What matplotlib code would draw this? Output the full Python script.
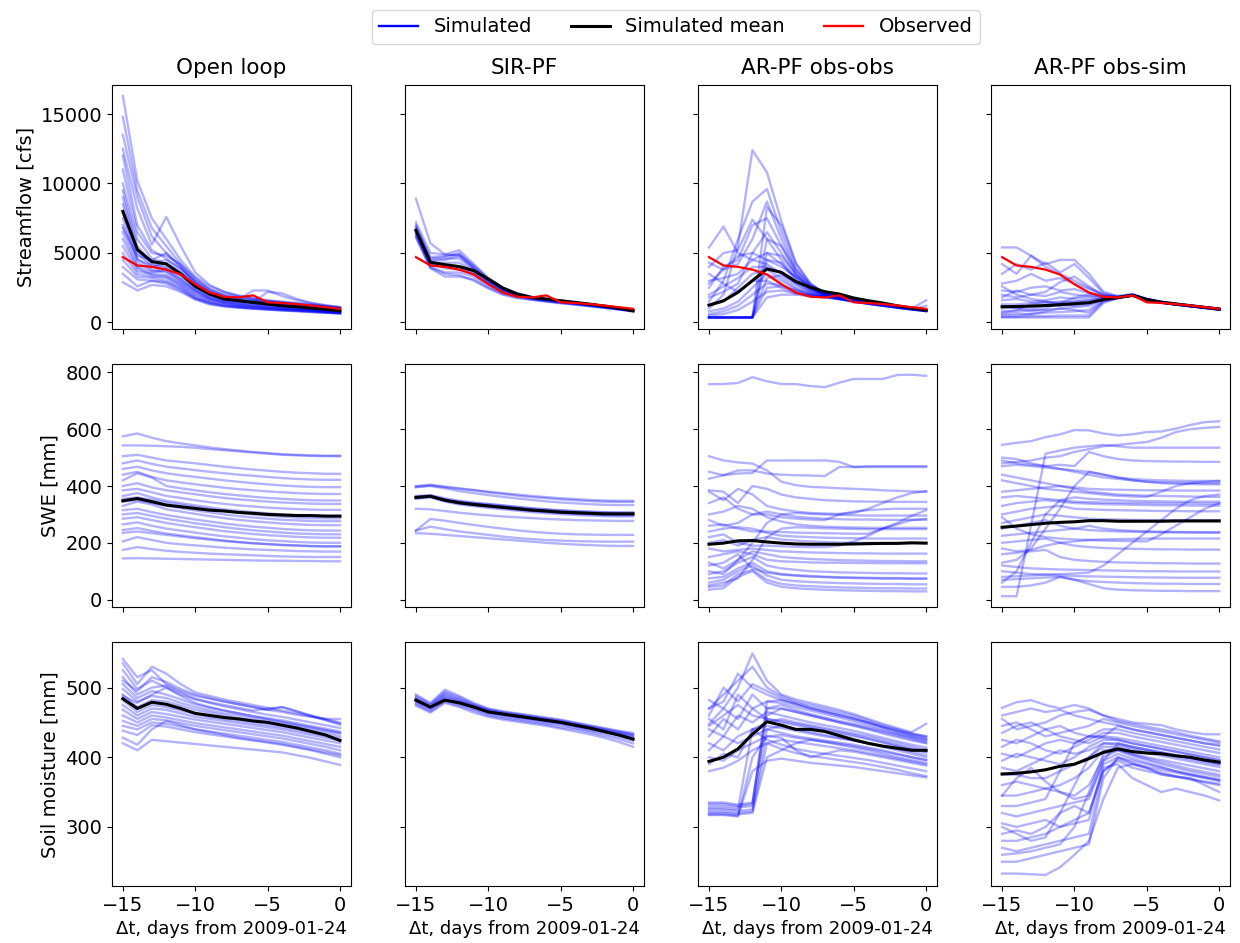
import numpy as np
import matplotlib
matplotlib.use("Agg")
import matplotlib.pyplot as plt
from matplotlib.lines import Line2D

days = list(range(-15, 1))

# ---- streamflow [cfs] --------------------------------------------------------
obs_flow = [4700, 4100, 4000, 3800, 3450, 2750, 2150, 1850, 1800, 1950, 1450, 1400, 1320, 1220, 1100, 980]

ol_flow_mean = [7990, 5250, 4380, 4210, 3490, 2600, 2045, 1685, 1565, 1445, 1320, 1200, 1130, 1035, 940, 840]
ol_flow = [
    [16300, 10200, 7500, 6000, 4500, 3300, 2600, 2200, 1950, 1750, 1600, 1500, 1400, 1300, 1200, 1100],
    [14800, 9500, 6800, 5500, 4200, 3100, 2400, 2050, 1850, 1700, 1550, 1450, 1350, 1250, 1150, 1050],
    [13500, 9000, 6200, 5000, 4000, 3000, 2300, 1950, 1750, 1600, 1500, 1400, 1300, 1200, 1100, 1000],
    [12500, 8200, 5600, 7600, 5500, 3600, 2700, 2200, 1900, 1700, 1550, 1450, 1350, 1250, 1150, 1050],
    [12000, 7000, 5200, 4600, 3800, 2900, 2200, 1850, 1650, 1500, 1400, 1300, 1200, 1100, 1000, 900],
    [11000, 6500, 5000, 4800, 4200, 3200, 2400, 1900, 1700, 1550, 1450, 1350, 1250, 1150, 1050, 950],
    [10000, 6000, 4600, 4200, 3600, 2700, 2100, 1800, 1600, 1500, 1400, 1300, 1200, 1100, 1000, 900],
    [9500, 5500, 4300, 4500, 3900, 2900, 2200, 1850, 1650, 2300, 2300, 1900, 1600, 1400, 1250, 1100],
    [9000, 5200, 4200, 4000, 3400, 2500, 1950, 1650, 1500, 1400, 1300, 1200, 1100, 1000, 900, 800],
    [8500, 5000, 4000, 4300, 3600, 2600, 2000, 1700, 1550, 1450, 1350, 1250, 1150, 1050, 950, 850],
    [8000, 4600, 3800, 3700, 3100, 2300, 1800, 1550, 1400, 1300, 1200, 1100, 1000, 900, 800, 750],
    [7500, 4500, 4100, 3900, 3200, 2400, 1850, 1600, 1450, 1350, 1250, 1150, 1050, 950, 850, 780],
    [7000, 4300, 3700, 3600, 2900, 2200, 1700, 1450, 1300, 1200, 1100, 1000, 950, 880, 800, 720],
    [6800, 4800, 4500, 5000, 4000, 2800, 2100, 1750, 1550, 1450, 2200, 2100, 1700, 1400, 1200, 1050],
    [6500, 4000, 3600, 3800, 3000, 2300, 1750, 1500, 1350, 1250, 1150, 1050, 980, 900, 820, 740],
    [6000, 3900, 3400, 3300, 2700, 2000, 1600, 1400, 1250, 1150, 1050, 980, 920, 850, 780, 700],
    [5500, 3700, 3500, 3400, 2800, 2100, 1650, 1400, 1250, 1150, 1080, 1000, 930, 860, 790, 720],
    [5000, 3500, 3300, 3200, 2600, 1900, 1500, 1300, 1180, 1100, 1020, 950, 890, 830, 760, 690],
    [4500, 3300, 3200, 3000, 2500, 1800, 1450, 1250, 1130, 1050, 980, 920, 860, 800, 740, 670],
    [4000, 3100, 3000, 2900, 2400, 1750, 1400, 1200, 1100, 1020, 950, 890, 840, 780, 720, 660],
    [3500, 2600, 3000, 2800, 2300, 1700, 1350, 1180, 1080, 1000, 930, 870, 820, 760, 700, 650],
    [2900, 2300, 2700, 2600, 2200, 1650, 1300, 1150, 1050, 980, 920, 860, 810, 750, 700, 640],
]

sir_flow_mean = [6620, 4330, 4160, 4020, 3730, 3130, 2480, 2045, 1800, 1685, 1565, 1445, 1320, 1180, 1035, 840]
sir_flow = [
    [8900, 5700, 4900, 4800, 3900, 3000, 2400, 2000, 1800, 1650, 1500, 1400, 1280, 1150, 1020, 880],
    [7200, 5000, 4900, 5200, 4200, 3200, 2500, 2100, 1850, 1700, 1550, 1430, 1300, 1170, 1040, 900],
    [7000, 4600, 4700, 5000, 4000, 3100, 2450, 2050, 1800, 1650, 1520, 1400, 1280, 1150, 1020, 880],
    [6900, 4700, 4800, 4900, 4100, 3150, 2500, 2080, 1820, 1680, 1540, 1420, 1290, 1160, 1030, 890],
    [6800, 4400, 4500, 4800, 3900, 3000, 2400, 2000, 1780, 1630, 1500, 1380, 1260, 1130, 1000, 860],
    [6700, 4500, 4600, 4600, 3800, 2950, 2350, 1980, 1760, 1620, 1490, 1370, 1250, 1120, 990, 850],
    [6600, 4200, 4300, 4300, 3700, 2900, 2300, 1950, 1750, 1600, 1480, 1360, 1240, 1110, 980, 840],
    [6500, 4300, 3900, 3800, 3600, 2850, 2300, 1950, 1730, 1600, 1470, 1350, 1230, 1110, 980, 840],
    [6400, 4100, 4000, 4000, 3500, 2800, 2250, 1900, 1720, 1580, 1460, 1340, 1220, 1100, 970, 830],
    [6300, 4000, 3600, 3600, 3300, 2650, 2150, 1850, 1680, 1550, 1430, 1320, 1200, 1080, 950, 820],
    [6200, 3900, 3300, 3300, 3100, 2500, 2050, 1800, 1650, 1520, 1400, 1300, 1180, 1060, 940, 800],
    [6100, 3950, 3500, 3400, 3000, 2450, 2000, 1750, 1620, 1500, 1380, 1280, 1170, 1050, 930, 790],
]

aroo_flow_mean = [1250, 1560, 2170, 3010, 3850, 3610, 2940, 2530, 2215, 2045, 1760, 1565, 1400, 1200, 1035, 890]
aroo_flow = [
    [1000, 2000, 5500, 12400, 10800, 7300, 4300, 2800, 2100, 1850, 1650, 1450, 1300, 1150, 1000, 900],
    [5400, 6900, 5000, 4500, 4200, 3500, 2900, 2400, 2050, 1800, 1600, 1450, 1300, 1150, 1000, 880],
    [1500, 3000, 6000, 8700, 9600, 6500, 3900, 2700, 2100, 1850, 1650, 1450, 1300, 1150, 1000, 880],
    [360, 360, 360, 360, 8300, 7000, 4200, 2800, 2100, 1850, 1650, 1450, 1300, 1150, 1000, 900],
    [2500, 4000, 4500, 7000, 7500, 5500, 3500, 2500, 2000, 1800, 1600, 1450, 1300, 1150, 1000, 880],
    [360, 360, 360, 360, 6000, 5500, 3800, 2700, 2100, 1850, 1650, 1450, 1300, 1150, 1000, 1600],
    [4300, 3800, 4800, 5000, 4500, 4000, 3300, 2600, 2050, 1800, 1600, 1450, 1300, 1150, 1000, 880],
    [3000, 3200, 3500, 4500, 5000, 4200, 3200, 2400, 2000, 1780, 1580, 1420, 1280, 1130, 990, 870],
    [360, 360, 360, 360, 4500, 4300, 3000, 2300, 1950, 1750, 1560, 1400, 1260, 1120, 980, 860],
    [2000, 2600, 3200, 4000, 4000, 3600, 2800, 2200, 1950, 1750, 1550, 1400, 1250, 1100, 970, 850],
    [360, 360, 360, 360, 3200, 3400, 2700, 2200, 1950, 1750, 1550, 1400, 1250, 1100, 970, 850],
    [1200, 1500, 2500, 3500, 3800, 3200, 2500, 2100, 1900, 1720, 1540, 1380, 1240, 1100, 960, 840],
    [800, 1000, 1500, 2500, 3500, 3000, 2400, 2050, 1880, 1700, 1530, 1370, 1230, 1090, 950, 830],
    [360, 360, 360, 360, 2500, 2600, 2300, 2000, 1850, 1700, 1520, 1360, 1220, 1080, 950, 820],
    [3500, 2800, 2200, 3000, 3000, 2500, 2100, 1950, 1850, 1690, 1510, 1350, 1210, 1070, 940, 820],
    [600, 800, 1200, 2000, 2800, 2700, 2300, 2000, 1850, 1690, 1510, 1350, 1210, 1070, 940, 1200],
    [360, 360, 360, 360, 1800, 2000, 2000, 1900, 1820, 1680, 1500, 1340, 1200, 1060, 930, 810],
    [1800, 2200, 2800, 5000, 6500, 5000, 3400, 2500, 2000, 1780, 1580, 1420, 1280, 1130, 990, 870],
    [360, 360, 360, 360, 5000, 4800, 3500, 2500, 2000, 1780, 1580, 1420, 1280, 1130, 990, 870],
    [2800, 3800, 4200, 6000, 8700, 6000, 3700, 2600, 2050, 1800, 1600, 1440, 1290, 1140, 1000, 880],
    [500, 600, 900, 1500, 2200, 2300, 2100, 1950, 1820, 1680, 1500, 1340, 1200, 1060, 930, 820],
    [4000, 5000, 5200, 7400, 6000, 4500, 3200, 2400, 2000, 1780, 1580, 1420, 1280, 1130, 990, 870],
]

aros_flow_mean = [1130, 1150, 1180, 1220, 1280, 1350, 1420, 1650, 1800, 1950, 1650, 1450, 1330, 1210, 1090, 970]
aros_flow = [
    [5400, 5400, 4800, 4200, 4500, 4500, 3500, 2200, 1900, 2050, 1700, 1500, 1360, 1230, 1100, 980],
    [4200, 3500, 4800, 4000, 3500, 3000, 2500, 2000, 1850, 2000, 1680, 1480, 1340, 1210, 1090, 970],
    [3500, 4200, 3800, 4300, 3600, 4200, 3200, 2100, 1880, 2020, 1690, 1490, 1350, 1220, 1095, 975],
    [2800, 3000, 3500, 3000, 3200, 2800, 2400, 1950, 1830, 1990, 1670, 1470, 1330, 1200, 1080, 960],
    [2300, 2200, 2500, 2600, 2300, 2400, 2100, 1900, 1820, 1980, 1660, 1460, 1320, 1200, 1080, 960],
    [2000, 1800, 2000, 1900, 2200, 2000, 1900, 1850, 1800, 1970, 1650, 1450, 1310, 1190, 1070, 950],
    [1600, 1700, 1500, 1600, 1800, 1700, 1800, 1800, 1800, 1960, 1650, 1450, 1310, 1190, 1070, 950],
    [1300, 1300, 1400, 1400, 1500, 1500, 1600, 1750, 1790, 1950, 1640, 1440, 1300, 1180, 1060, 940],
    [1000, 1100, 1000, 1200, 1200, 1300, 1400, 1700, 1780, 1950, 1640, 1440, 1300, 1180, 1060, 940],
    [800, 800, 900, 900, 1000, 1100, 1200, 1650, 1770, 1940, 1630, 1430, 1290, 1170, 1050, 930],
    [600, 650, 600, 700, 750, 800, 900, 1600, 1760, 1940, 1630, 1430, 1290, 1170, 1050, 930],
    [400, 400, 450, 450, 500, 500, 500, 1500, 1750, 1930, 1620, 1420, 1280, 1160, 1040, 920],
    [360, 360, 360, 360, 360, 360, 360, 1400, 1740, 1930, 1620, 1420, 1280, 1160, 1040, 920],
    [1800, 2300, 2000, 2200, 2900, 3300, 2600, 1950, 1820, 1980, 1660, 1460, 1320, 1200, 1080, 960],
    [2600, 2000, 1700, 1500, 1400, 1500, 1600, 1750, 1790, 1960, 1650, 1450, 1310, 1190, 1070, 950],
    [700, 900, 1300, 1500, 1300, 1200, 1300, 1650, 1780, 1950, 1640, 1440, 1300, 1180, 1060, 940],
    [1200, 1000, 800, 1000, 1400, 1800, 2000, 1850, 1800, 1960, 1650, 1450, 1310, 1190, 1070, 950],
    [500, 500, 600, 800, 1000, 900, 700, 1550, 1760, 1940, 1630, 1430, 1290, 1170, 1050, 930],
]

# ---- SWE [mm] ----------------------------------------------------------------
ol_swe_mean = [348, 356, 345, 333, 327, 321, 315, 312, 307, 304, 300, 298, 296, 296, 294, 294]
ol_swe = [
    [575, 585, 570, 558, 550, 543, 536, 530, 525, 520, 516, 512, 510, 508, 507, 507],
    [543, 543, 542, 540, 538, 535, 530, 526, 522, 518, 514, 510, 508, 506, 505, 505],
    [505, 510, 500, 490, 485, 480, 474, 468, 463, 458, 454, 450, 447, 445, 443, 443],
    [480, 490, 478, 468, 462, 456, 450, 445, 440, 436, 432, 428, 425, 423, 422, 422],
    [460, 468, 455, 445, 438, 432, 426, 420, 415, 410, 406, 402, 399, 397, 396, 396],
    [440, 450, 432, 420, 413, 406, 400, 394, 389, 385, 381, 378, 375, 373, 372, 372],
    [420, 445, 430, 400, 392, 385, 378, 372, 367, 362, 358, 355, 352, 350, 349, 349],
    [400, 410, 395, 385, 378, 371, 364, 358, 353, 349, 345, 342, 340, 338, 337, 337],
    [385, 390, 378, 365, 358, 350, 343, 337, 332, 328, 324, 321, 319, 317, 316, 316],
    [365, 375, 360, 348, 340, 332, 325, 318, 313, 308, 304, 300, 298, 296, 295, 295],
    [355, 360, 352, 342, 334, 326, 319, 312, 306, 300, 296, 292, 289, 287, 286, 286],
    [345, 350, 340, 330, 322, 314, 307, 300, 294, 289, 285, 281, 279, 277, 276, 276],
    [330, 345, 335, 318, 310, 302, 294, 287, 281, 276, 272, 268, 265, 263, 262, 262],
    [315, 320, 308, 298, 290, 282, 275, 268, 262, 257, 253, 249, 246, 244, 243, 243],
    [300, 305, 295, 285, 277, 269, 262, 255, 249, 244, 240, 236, 233, 231, 230, 230],
    [285, 290, 280, 270, 262, 255, 248, 241, 236, 231, 227, 224, 221, 219, 218, 218],
    [265, 272, 260, 250, 243, 236, 229, 223, 218, 213, 209, 206, 203, 201, 200, 200],
    [245, 252, 242, 233, 226, 220, 214, 208, 203, 199, 196, 193, 191, 189, 188, 188],
    [235, 240, 234, 228, 222, 216, 211, 206, 202, 198, 195, 192, 190, 188, 187, 187],
    [205, 220, 210, 200, 195, 191, 187, 183, 180, 177, 175, 173, 171, 170, 169, 169],
    [175, 185, 178, 172, 168, 165, 162, 160, 158, 156, 154, 152, 151, 150, 150, 150],
    [145, 146, 145, 144, 143, 142, 141, 140, 139, 138, 137, 137, 136, 136, 135, 135],
]

sir_swe_mean = [360, 364, 350, 341, 335, 330, 325, 320, 315, 312, 308, 306, 304, 302, 302, 302]
sir_swe = [
    [400, 405, 398, 392, 386, 380, 375, 370, 365, 361, 357, 354, 351, 349, 348, 348],
    [395, 402, 396, 390, 385, 378, 372, 366, 361, 357, 353, 350, 347, 345, 344, 344],
    [398, 400, 392, 382, 375, 368, 362, 356, 351, 346, 342, 339, 336, 334, 333, 333],
    [365, 368, 357, 348, 342, 337, 332, 327, 322, 318, 315, 312, 310, 308, 307, 307],
    [362, 366, 353, 343, 337, 332, 327, 322, 317, 313, 310, 307, 305, 303, 302, 302],
    [358, 362, 348, 338, 332, 327, 322, 317, 312, 308, 305, 302, 300, 298, 297, 297],
    [355, 360, 345, 335, 329, 323, 318, 313, 308, 304, 301, 298, 296, 294, 293, 293],
    [360, 363, 352, 346, 340, 336, 331, 326, 321, 317, 314, 311, 309, 307, 306, 306],
    [357, 364, 350, 342, 336, 330, 325, 320, 315, 311, 307, 304, 302, 300, 299, 299],
    [320, 318, 312, 306, 301, 297, 293, 290, 287, 284, 282, 280, 279, 278, 277, 277],
    [243, 284, 278, 270, 263, 256, 250, 244, 239, 235, 232, 230, 229, 228, 228, 228],
    [243, 257, 248, 240, 234, 228, 222, 217, 213, 210, 208, 206, 205, 204, 204, 204],
    [234, 232, 228, 224, 220, 216, 212, 208, 204, 200, 197, 194, 192, 190, 189, 189],
]

aroo_swe_mean = [195, 199, 207, 208, 203, 199, 196, 195, 195, 195, 196, 197, 198, 198, 200, 199]
aroo_swe = [
    [759, 759, 763, 783, 769, 759, 759, 752, 748, 764, 777, 777, 777, 791, 792, 788],
    [505, 490, 483, 479, 455, 415, 403, 397, 395, 392, 390, 388, 385, 383, 381, 380],
    [450, 438, 444, 446, 490, 490, 490, 490, 490, 485, 467, 470, 470, 470, 470, 470],
    [426, 438, 455, 455, 444, 440, 438, 437, 435, 467, 467, 467, 467, 467, 467, 467],
    [385, 380, 340, 400, 390, 370, 360, 355, 350, 348, 346, 345, 345, 344, 344, 344],
    [380, 350, 390, 370, 330, 318, 310, 305, 303, 302, 305, 320, 340, 360, 375, 382],
    [340, 360, 320, 300, 310, 300, 292, 288, 285, 283, 282, 282, 281, 281, 281, 281],
    [300, 310, 330, 320, 290, 275, 265, 260, 257, 255, 254, 253, 253, 253, 253, 253],
    [280, 260, 270, 300, 300, 290, 285, 282, 280, 300, 310, 315, 318, 320, 320, 320],
    [260, 265, 250, 240, 240, 238, 236, 235, 234, 233, 232, 232, 250, 270, 295, 315],
    [240, 250, 255, 250, 235, 225, 222, 220, 218, 217, 216, 215, 215, 215, 215, 215],
    [220, 230, 200, 190, 190, 188, 186, 185, 185, 190, 205, 225, 250, 265, 280, 285],
    [200, 210, 190, 210, 220, 212, 208, 205, 203, 201, 200, 200, 199, 199, 199, 199],
    [180, 170, 175, 180, 175, 170, 168, 166, 165, 164, 163, 163, 162, 162, 162, 162],
    [150, 160, 170, 160, 140, 135, 133, 131, 130, 130, 129, 129, 128, 128, 128, 128],
    [130, 110, 140, 200, 270, 300, 305, 302, 300, 298, 297, 296, 296, 296, 296, 296],
    [120, 130, 160, 110, 95, 88, 84, 81, 79, 77, 76, 75, 74, 74, 73, 73],
    [100, 90, 140, 170, 160, 150, 146, 143, 141, 139, 138, 137, 136, 136, 135, 135],
    [90, 100, 130, 150, 120, 110, 105, 100, 98, 96, 95, 94, 93, 93, 92, 92],
    [75, 80, 110, 130, 100, 90, 86, 83, 81, 79, 78, 77, 76, 76, 75, 75],
    [60, 70, 100, 120, 85, 70, 65, 62, 60, 58, 57, 56, 55, 55, 54, 54],
    [50, 60, 75, 140, 220, 250, 255, 253, 251, 250, 249, 248, 248, 248, 248, 248],
    [45, 50, 90, 105, 70, 55, 50, 47, 45, 43, 42, 41, 40, 40, 39, 39],
    [35, 40, 80, 100, 60, 45, 40, 37, 35, 33, 32, 31, 30, 30, 29, 29],
]

aros_swe_mean = [255, 259, 264, 269, 272, 274, 278, 278, 276, 276, 276, 276, 277, 277, 277, 277]
aros_swe = [
    [545, 552, 558, 572, 582, 597, 596, 585, 578, 582, 590, 592, 602, 615, 625, 628],
    [480, 485, 490, 500, 505, 520, 530, 540, 545, 550, 555, 570, 590, 600, 605, 608],
    [12, 12, 260, 514, 525, 535, 540, 545, 540, 535, 535, 535, 535, 535, 535, 535],
    [500, 495, 480, 470, 460, 450, 440, 430, 425, 420, 415, 413, 412, 411, 410, 410],
    [490, 480, 475, 470, 475, 470, 520, 505, 495, 490, 488, 487, 486, 486, 485, 485],
    [470, 475, 470, 465, 460, 455, 450, 440, 430, 420, 415, 410, 408, 407, 406, 406],
    [440, 430, 420, 410, 400, 390, 380, 375, 370, 368, 366, 365, 364, 363, 362, 362],
    [420, 410, 400, 390, 385, 380, 375, 370, 365, 363, 362, 380, 400, 410, 415, 418],
    [380, 385, 390, 395, 400, 395, 390, 388, 387, 386, 385, 385, 384, 384, 384, 384],
    [360, 365, 360, 355, 350, 345, 343, 342, 341, 340, 340, 339, 339, 339, 338, 338],
    [330, 340, 345, 350, 345, 340, 338, 336, 335, 334, 333, 332, 332, 331, 331, 331],
    [300, 310, 320, 325, 330, 320, 318, 316, 315, 314, 313, 312, 312, 311, 311, 311],
    [290, 250, 230, 220, 215, 212, 210, 208, 207, 206, 205, 230, 260, 290, 320, 340],
    [270, 280, 290, 300, 295, 290, 285, 283, 282, 281, 280, 280, 280, 280, 280, 280],
    [250, 260, 270, 280, 260, 250, 245, 242, 240, 239, 238, 237, 237, 236, 236, 236],
    [225, 230, 235, 240, 245, 250, 260, 250, 245, 242, 240, 239, 238, 238, 237, 237],
    [200, 205, 210, 215, 200, 190, 185, 182, 180, 179, 178, 177, 177, 176, 176, 176],
    [180, 170, 175, 190, 200, 205, 210, 212, 213, 214, 215, 215, 215, 215, 215, 215],
    [160, 165, 170, 175, 150, 140, 136, 133, 131, 130, 129, 128, 128, 127, 127, 127],
    [130, 140, 180, 250, 320, 400, 450, 440, 430, 425, 422, 420, 419, 418, 418, 418],
    [120, 115, 110, 108, 106, 105, 104, 103, 102, 101, 100, 100, 99, 99, 99, 99],
    [100, 95, 90, 88, 85, 83, 82, 81, 80, 79, 78, 78, 77, 77, 77, 77],
    [80, 82, 85, 88, 90, 92, 95, 120, 160, 200, 240, 280, 320, 350, 365, 370],
    [70, 72, 75, 78, 80, 70, 65, 62, 60, 58, 57, 56, 56, 55, 55, 55],
    [60, 100, 200, 300, 350, 360, 355, 352, 350, 348, 347, 346, 345, 345, 345, 345],
    [45, 45, 50, 60, 80, 70, 55, 40, 35, 33, 32, 31, 31, 30, 30, 30],
]

# ---- soil moisture [mm] ------------------------------------------------------
ol_sm_mean = [484, 470, 479, 476, 470, 463, 460, 457, 455, 452, 450, 446, 442, 437, 432, 424]
ol_sm = [
    [541, 515, 525, 505, 495, 488, 484, 480, 476, 472, 468, 465, 461, 458, 455, 455],
    [535, 505, 530, 520, 505, 493, 488, 483, 479, 475, 471, 467, 463, 459, 455, 450],
    [525, 498, 510, 500, 490, 483, 479, 475, 471, 467, 470, 472, 466, 459, 453, 447],
    [515, 490, 500, 503, 493, 484, 478, 473, 469, 465, 461, 458, 454, 450, 446, 442],
    [510, 495, 515, 508, 498, 490, 485, 480, 476, 472, 468, 472, 466, 460, 454, 448],
    [505, 485, 495, 490, 483, 476, 471, 467, 463, 459, 456, 453, 449, 445, 441, 437],
    [498, 480, 488, 485, 478, 472, 467, 463, 460, 456, 453, 450, 446, 442, 438, 434],
    [490, 472, 482, 480, 474, 468, 464, 460, 456, 453, 450, 447, 443, 439, 435, 430],
    [488, 478, 490, 500, 488, 478, 472, 467, 463, 459, 455, 451, 447, 443, 439, 435],
    [482, 465, 475, 472, 467, 462, 458, 455, 452, 449, 446, 443, 439, 435, 431, 427],
    [475, 460, 470, 468, 463, 458, 455, 452, 449, 446, 443, 440, 436, 432, 428, 424],
    [468, 455, 465, 462, 458, 454, 451, 448, 445, 442, 439, 436, 432, 428, 424, 420],
    [460, 450, 460, 457, 453, 449, 446, 443, 440, 437, 434, 431, 427, 423, 419, 415],
    [452, 445, 455, 453, 449, 445, 442, 439, 436, 433, 430, 427, 423, 419, 415, 410],
    [445, 440, 450, 448, 444, 440, 437, 434, 431, 428, 425, 422, 418, 414, 410, 405],
    [438, 432, 446, 444, 440, 436, 433, 430, 427, 424, 421, 418, 414, 410, 405, 400],
    [428, 418, 440, 452, 446, 440, 436, 432, 428, 425, 422, 419, 415, 411, 407, 403],
    [420, 410, 425, 423, 421, 419, 417, 415, 413, 411, 409, 407, 403, 399, 394, 389],
]

sir_sm_mean = [482, 472, 482, 478, 472, 465, 462, 459, 456, 453, 450, 446, 442, 437, 432, 426]
sir_sm = [
    [490, 478, 497, 488, 478, 470, 466, 463, 460, 457, 454, 450, 446, 442, 438, 435],
    [488, 476, 494, 486, 476, 469, 465, 462, 459, 456, 453, 449, 445, 441, 437, 433],
    [486, 475, 492, 484, 475, 468, 464, 461, 458, 455, 452, 448, 444, 440, 436, 432],
    [484, 473, 490, 482, 474, 467, 463, 460, 457, 454, 451, 447, 443, 439, 435, 431],
    [483, 472, 488, 481, 473, 466, 462, 459, 456, 453, 450, 446, 442, 438, 434, 429],
    [481, 471, 486, 480, 472, 465, 461, 458, 455, 452, 449, 445, 441, 437, 433, 428],
    [480, 470, 485, 478, 471, 464, 460, 457, 454, 451, 448, 444, 440, 436, 432, 427],
    [478, 468, 482, 476, 469, 462, 458, 455, 452, 449, 446, 442, 438, 434, 429, 424],
    [476, 466, 480, 474, 467, 460, 456, 453, 450, 447, 443, 440, 436, 431, 426, 420],
    [474, 464, 478, 472, 464, 458, 454, 451, 448, 445, 441, 437, 433, 428, 422, 415],
]

aroo_sm_mean = [394, 400, 412, 433, 451, 446, 440, 440, 437, 431, 425, 420, 416, 413, 410, 410]
aroo_sm = [
    [482, 470, 500, 549, 510, 490, 483, 478, 473, 468, 462, 455, 448, 442, 436, 448],
    [470, 490, 510, 530, 500, 488, 480, 475, 470, 465, 460, 453, 446, 440, 434, 430],
    [470, 480, 520, 500, 490, 482, 476, 470, 465, 460, 455, 450, 444, 439, 434, 430],
    [460, 500, 480, 505, 495, 485, 478, 472, 467, 462, 457, 450, 443, 437, 432, 428],
    [455, 440, 490, 470, 480, 478, 472, 467, 462, 457, 452, 446, 440, 434, 429, 425],
    [448, 470, 455, 490, 470, 470, 465, 460, 455, 450, 445, 440, 434, 429, 424, 420],
    [445, 460, 475, 460, 455, 450, 446, 442, 438, 434, 430, 426, 421, 416, 411, 407],
    [440, 430, 460, 450, 465, 460, 455, 450, 446, 442, 438, 433, 428, 423, 418, 414],
    [430, 455, 440, 470, 455, 452, 448, 444, 440, 436, 432, 427, 422, 417, 412, 408],
    [420, 410, 430, 440, 445, 442, 438, 434, 430, 427, 424, 420, 415, 410, 405, 400],
    [410, 430, 420, 430, 440, 435, 430, 427, 424, 421, 418, 414, 410, 405, 400, 396],
    [400, 395, 410, 420, 430, 428, 410, 400, 405, 410, 408, 404, 400, 396, 392, 388],
    [390, 405, 400, 440, 425, 418, 412, 408, 405, 402, 399, 396, 392, 388, 384, 380],
    [380, 385, 395, 410, 420, 412, 406, 402, 399, 396, 393, 390, 386, 382, 377, 373],
    [335, 335, 332, 335, 460, 470, 465, 460, 455, 450, 446, 441, 436, 431, 426, 421],
    [333, 333, 330, 333, 480, 482, 476, 470, 465, 460, 455, 449, 443, 437, 431, 426],
    [330, 330, 328, 330, 470, 475, 468, 462, 457, 452, 448, 443, 438, 433, 428, 423],
    [327, 327, 325, 440, 450, 455, 450, 446, 442, 438, 434, 430, 425, 420, 415, 410],
    [325, 325, 323, 325, 440, 445, 440, 436, 432, 428, 424, 420, 416, 412, 408, 403],
    [322, 322, 320, 322, 420, 425, 422, 419, 416, 413, 410, 406, 402, 398, 394, 390],
    [320, 320, 318, 320, 400, 410, 420, 425, 422, 418, 414, 410, 405, 400, 396, 392],
    [318, 318, 316, 380, 395, 398, 395, 392, 390, 388, 386, 383, 380, 377, 374, 371],
    [317, 317, 315, 400, 430, 432, 428, 425, 422, 419, 416, 412, 408, 404, 400, 396],
]

aros_sm_mean = [376, 377, 379, 382, 387, 390, 398, 407, 412, 408, 406, 405, 402, 400, 396, 393]
aros_sm = [
    [471, 479, 482, 475, 470, 475, 470, 460, 455, 450, 448, 446, 440, 436, 433, 433],
    [460, 465, 470, 465, 468, 460, 455, 450, 446, 440, 436, 432, 428, 424, 420, 418],
    [455, 440, 445, 450, 460, 465, 468, 460, 452, 448, 444, 440, 436, 431, 427, 423],
    [445, 450, 440, 430, 435, 440, 445, 455, 450, 445, 441, 437, 433, 429, 425, 421],
    [435, 445, 450, 440, 430, 425, 420, 430, 445, 440, 436, 432, 428, 424, 420, 416],
    [425, 420, 430, 440, 445, 435, 430, 440, 440, 435, 431, 427, 423, 419, 415, 411],
    [415, 425, 420, 410, 405, 415, 425, 435, 435, 430, 426, 422, 418, 414, 410, 406],
    [405, 400, 410, 420, 425, 420, 430, 430, 428, 424, 420, 416, 412, 408, 404, 400],
    [395, 405, 400, 395, 390, 400, 415, 425, 425, 420, 416, 412, 408, 404, 400, 396],
    [385, 380, 390, 400, 410, 405, 410, 420, 420, 415, 411, 407, 403, 399, 395, 391],
    [375, 375, 370, 370, 380, 390, 400, 415, 415, 410, 406, 402, 398, 394, 390, 386],
    [360, 365, 360, 355, 360, 370, 385, 410, 412, 405, 400, 396, 392, 388, 384, 380],
    [345, 370, 385, 365, 350, 340, 345, 395, 420, 415, 411, 407, 403, 399, 395, 391],
    [345, 345, 350, 355, 350, 345, 360, 400, 410, 402, 396, 390, 385, 380, 376, 372],
    [330, 330, 335, 340, 380, 420, 430, 428, 425, 420, 416, 412, 408, 404, 400, 396],
    [320, 315, 320, 325, 330, 335, 340, 395, 405, 398, 392, 386, 380, 375, 371, 367],
    [305, 300, 305, 310, 300, 305, 310, 390, 400, 392, 385, 375, 372, 370, 360, 350],
    [300, 290, 280, 285, 320, 360, 400, 420, 418, 413, 409, 405, 401, 397, 393, 389],
    [290, 295, 290, 300, 320, 330, 320, 380, 395, 385, 380, 376, 372, 368, 364, 360],
    [280, 280, 285, 290, 300, 310, 320, 385, 390, 370, 360, 350, 355, 350, 345, 338],
    [270, 265, 270, 275, 280, 285, 290, 380, 398, 390, 384, 378, 373, 369, 365, 362],
    [260, 262, 265, 270, 275, 300, 350, 405, 410, 404, 398, 393, 388, 383, 379, 375],
    [250, 250, 255, 260, 265, 270, 275, 370, 400, 395, 390, 385, 380, 376, 372, 368],
    [233, 233, 232, 231, 242, 260, 280, 340, 385, 390, 386, 382, 378, 374, 370, 366],
]

col_titles = ["Open loop", "SIR-PF", "AR-PF obs-obs", "AR-PF obs-sim"]
row_labels = ["Streamflow [cfs]", "SWE [mm]", "Soil moisture [mm]"]
xlabel = "Δt, days from 2009-01-24"

ens = [
    [ol_flow, sir_flow, aroo_flow, aros_flow],
    [ol_swe, sir_swe, aroo_swe, aros_swe],
    [ol_sm, sir_sm, aroo_sm, aros_sm],
]
means = [
    [ol_flow_mean, sir_flow_mean, aroo_flow_mean, aros_flow_mean],
    [ol_swe_mean, sir_swe_mean, aroo_swe_mean, aros_swe_mean],
    [ol_sm_mean, sir_sm_mean, aroo_sm_mean, aros_sm_mean],
]

plt.rcParams['font.size'] = 13

fig, axs = plt.subplots(3, 4, figsize=(12.4, 9.43), dpi=100,
                        sharex=True, sharey='row')
fig.subplots_adjust(left=0.0903, right=0.992, top=0.91, bottom=0.0604,
                    wspace=0.227, hspace=0.144)

x = np.array(days)
for r in range(3):
    for c in range(4):
        ax = axs[r, c]
        for member in ens[r][c]:
            ax.plot(x, member, color='blue', alpha=0.3, lw=1.7)
        ax.plot(x, means[r][c], color='black', lw=2.2, zorder=5)
        if r == 0:
            ax.plot(x, obs_flow, color='red', lw=1.6, zorder=6)
            ax.set_title(col_titles[c], fontsize=15.5, pad=8)
        if c == 0:
            ax.set_ylabel(row_labels[r], fontsize=14)
        if r == 2:
            ax.set_xlabel(xlabel, fontsize=13)
        ax.tick_params(labelsize=14)

axs[0, 0].set_yticks([0, 5000, 10000, 15000])
axs[1, 0].set_yticks([0, 200, 400, 600, 800])
axs[2, 0].set_yticks([300, 400, 500])
axs[2, 0].set_xticks([-15, -10, -5, 0])

handles = [Line2D([], [], color='blue', lw=1.7),
           Line2D([], [], color='black', lw=2.2),
           Line2D([], [], color='red', lw=1.7)]
fig.legend(handles, ["Simulated", "Simulated mean", "Observed"],
           loc='upper center', bbox_to_anchor=(0.545, 1.0), ncol=3,
           fontsize=14, handlelength=2.0, columnspacing=2.0)

fig.savefig("out.png", dpi=100)
